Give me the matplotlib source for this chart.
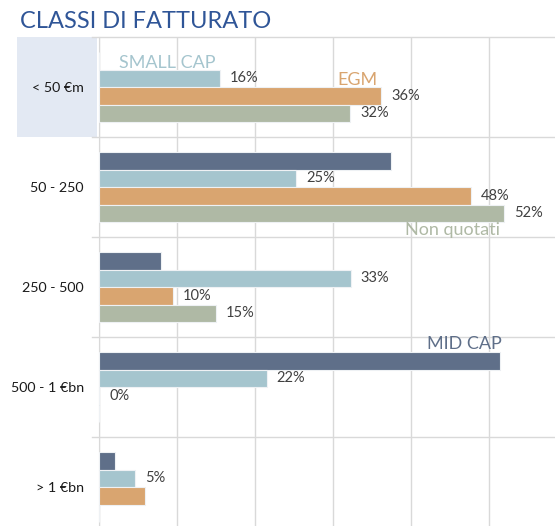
"""
Classi di fatturato - horizontal grouped bar chart
"""

import numpy as np
import matplotlib
matplotlib.use("Agg")
import matplotlib.pyplot as plt
import matplotlib.transforms as mtransforms
from matplotlib.patches import Rectangle

plt.rcParams["font.family"] = ["Lato", "DejaVu Sans"]

# -----------------------------------------------------------------------
# Data
# -----------------------------------------------------------------------
categories = ["< 50 €m", "50 - 250", "250 - 500", "500 - 1 €bn", "> 1 €bn"]
series_names = ["MID CAP", "SMALL CAP", "EGM", "Non quotati"]

mid_cap = [0, 37.5, 8, 51.5, 2]
small_cap = [15.5, 25.3, 32.3, 21.5, 4.6]
egm = [36.2, 47.7, 9.5, 0, 5.9]
non_quotati = [32.2, 52, 15, 0, 0]

mid_cap_labels = [None, None, None, None, None]
small_cap_labels = ["16%", "25%", "33%", "22%", "5%"]
egm_labels = ["36%", "48%", "10%", "0%", None]
non_quotati_labels = ["32%", "52%", "15%", None, None]

colors = ["#5F6F89", "#A5C5CE", "#D9A570", "#AFB9A5"]

# -----------------------------------------------------------------------
# Figure
# -----------------------------------------------------------------------
W, H = 555, 526
fig = plt.figure(figsize=(W / 100, H / 100), dpi=100)
ax = fig.add_axes([99 / W, 0, (W - 99) / W, 1 - 37 / H])

y = np.arange(len(categories))
bar_h = 0.175
offsets = np.array([-1.5, -0.5, 0.5, 1.5]) * bar_h

values = [mid_cap, small_cap, egm, non_quotati]
labels = [mid_cap_labels, small_cap_labels, egm_labels, non_quotati_labels]

for vals, labs, off, col in zip(values, labels, offsets, colors):
    ax.barh(y + off, vals, height=bar_h, color=col, edgecolor="#EEF1F4",
            linewidth=0.8, zorder=3)
    for yi, v, lab in zip(y, vals, labs):
        if lab is not None:
            ax.annotate(lab, (v, yi + off), xytext=(10, 0),
                        textcoords="offset pixels",
                        va="center", ha="left", fontsize=10.5, color="#404040")

ax.set_xlim(0, 58.5)
ax.set_ylim(len(categories) - 0.61, -0.5)

# grid
ax.set_xticks(np.arange(0, 60, 10))
ax.xaxis.grid(True, color="#D9D9D9", linewidth=1, zorder=0)
ax.tick_params(axis="x", length=0, labelbottom=False)
for b in np.arange(-0.5, len(categories), 1.0):
    ax.axhline(b, xmin=-0.015, xmax=1, color="#D9D9D9", linewidth=1,
               clip_on=False, zorder=1)
for s in ["top", "right", "bottom"]:
    ax.spines[s].set_visible(False)
ax.spines["left"].set_color("#D9D9D9")

ax.set_yticks(y)
ax.set_yticklabels(categories, fontsize=10.3, color="#1A1A1A")
ax.tick_params(axis="y", length=0, pad=11)

# highlighted first category box
trans = mtransforms.blended_transform_factory(ax.transAxes, ax.transData)
ax.add_patch(Rectangle(((17 - 99) / (W - 99), -0.5), (80) / (W - 99), 1.0,
                       transform=trans, facecolor="#E3E9F3", edgecolor="none",
                       clip_on=False, zorder=0))

# series name labels
ax.text(8.8, -0.24, "SMALL CAP", color=colors[1], fontsize=13, ha="center", va="center")
ax.text(33.2, -0.07, "EGM", color=colors[2], fontsize=13, ha="center", va="center")
ax.text(45.3, 1.43, "Non quotati", color=colors[3], fontsize=13, ha="center", va="center")
ax.text(46.9, 2.57, "MID CAP", color=colors[0], fontsize=13, ha="center", va="center")

fig.text(20 / W, 1 - 22 / H, "CLASSI DI FATTURATO", color="#2F5597",
         fontsize=17, ha="left", va="center")

fig.savefig("out.png", dpi=100)
